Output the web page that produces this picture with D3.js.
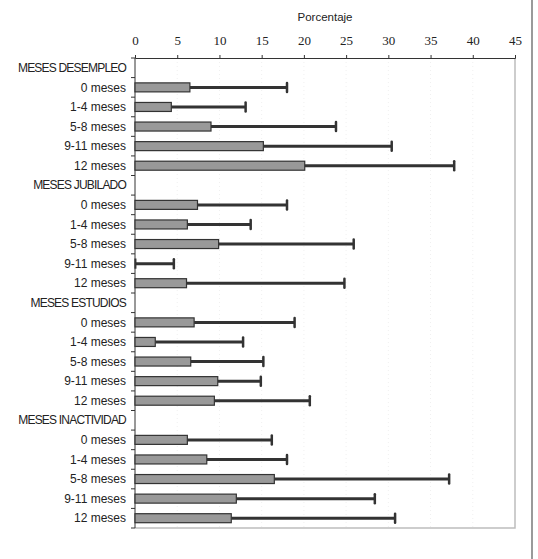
<!DOCTYPE html>
<html>
<head>
<meta charset="utf-8">
<script src="https://cdn.jsdelivr.net/npm/d3@7"></script>
<style>
  body { margin: 0; background: #fff; }
  svg { display: block; }
  .xtick text { font-family: "Times New Roman", "Liberation Serif", Times, serif; font-size: 13px; }
</style>
</head>
<body>
<div id="chart"></div>
<script>
// groups and their sub-categories
var groups = ["MESES DESEMPLEO", "MESES JUBILADO", "MESES ESTUDIOS", "MESES INACTIVIDAD"];
var months = ["0 meses", "1-4 meses", "5-8 meses", "9-11 meses", "12 meses"];

// percentage (bar) per group, in the order of months
var pct_desempleo = [6.5, 4.3, 9.0, 15.2, 20.1];
var pct_jubilado = [7.4, 6.2, 9.9, 0.1, 6.1];
var pct_estudios = [7.0, 2.4, 6.6, 9.8, 9.4];
var pct_inactividad = [6.2, 8.5, 16.5, 12.0, 11.4];

// upper end of the error bar
var up_desempleo = [18.0, 13.1, 23.8, 30.4, 37.8];
var up_jubilado = [18.0, 13.7, 25.9, 4.6, 24.8];
var up_estudios = [18.9, 12.8, 15.2, 14.9, 20.7];
var up_inactividad = [16.2, 18.0, 37.2, 28.4, 30.8];

var xTicks = [0, 5, 10, 15, 20, 25, 30, 35, 40, 45];

var pcts = [pct_desempleo, pct_jubilado, pct_estudios, pct_inactividad];
var ups = [up_desempleo, up_jubilado, up_estudios, up_inactividad];

// build the row list: header row then the five month rows
var rows = [];
groups.forEach(function (g, gi) {
    rows.push({ key: "h" + gi, label: g, header: true });
    months.forEach(function (m, mi) {
        rows.push({ key: gi + "_" + mi, label: m, value: pcts[gi][mi], upper: ups[gi][mi] });
    });
});

var W = 538, H = 559;
var margin = { top: 58, right: 23, bottom: 31, left: 135 };
var width = W - margin.left - margin.right,
    height = H - margin.top - margin.bottom;

var svg = d3.select("#chart").append("svg")
    .attr("width", W)
    .attr("height", H);

// outer frame line on the right
svg.append("line")
    .attr("x1", 532).attr("x2", 532)
    .attr("y1", 0).attr("y2", H)
    .attr("stroke", "#9a9a9a")
    .attr("stroke-width", 2);

var g = svg.append("g")
    .attr("transform", "translate(" + margin.left + "," + margin.top + ")");

var xScale = d3.scaleLinear().domain([0, 45]).range([0, width]);
var yScale = d3.scaleBand()
    .domain(rows.map(function (d) { return d.key; }))
    .range([0, height]);

// faint gridlines
g.selectAll(".grid")
    .data(xTicks.slice(1, -1))
    .enter().append("line")
    .attr("x1", function (d) { return xScale(d); })
    .attr("x2", function (d) { return xScale(d); })
    .attr("y1", 0).attr("y2", height)
    .attr("stroke", "#f0f0f0")
    .attr("stroke-dasharray", "1,3");

// plot border (right + bottom)
g.append("path")
    .attr("d", "M" + width + ",0V" + height + "H0")
    .attr("fill", "none")
    .attr("stroke", "#bdbdbd")
    .attr("stroke-width", 1.5);

// top axis
var xAxis = d3.axisTop(xScale).tickValues(xTicks).tickSize(3).tickPadding(10);
var gx = g.append("g").attr("class", "xtick").call(xAxis);
gx.attr("font-family", null).attr("font-size", null);
gx.select(".domain").attr("stroke", "#333");
gx.selectAll(".tick line").attr("stroke", "#333");
gx.selectAll("text").attr("fill", "#222");

svg.append("text")
    .attr("x", 325).attr("y", 21)
    .attr("text-anchor", "middle")
    .style("font-family", "'Liberation Sans', Arial, sans-serif")
    .style("font-size", "11.5px")
    .attr("fill", "#222")
    .text("Porcentaje");

// left axis: line + ticks at band boundaries
g.append("line")
    .attr("x1", 0).attr("x2", 0)
    .attr("y1", 0).attr("y2", height)
    .attr("stroke", "#333");

var boundaries = rows.map(function (d) { return yScale(d.key); }).concat([height]);
g.selectAll(".ytick")
    .data(boundaries)
    .enter().append("line")
    .attr("x1", -4).attr("x2", 0)
    .attr("y1", function (d) { return d; })
    .attr("y2", function (d) { return d; })
    .attr("stroke", "#333");

g.selectAll(".ylabel")
    .data(rows)
    .enter().append("text")
    .attr("x", -9)
    .attr("y", function (d) { return yScale(d.key) + yScale.bandwidth() / 2; })
    .attr("dy", "0.35em")
    .attr("text-anchor", "end")
    .style("font-family", "'Liberation Sans', Arial, sans-serif")
    .style("font-size", "12px")
    .attr("letter-spacing", function (d) { return d.header ? "-0.8px" : "0px"; })
    .attr("fill", "#222")
    .text(function (d) { return d.label; });

var data = rows.filter(function (d) { return !d.header; });
var barH = 9;

// error bars (drawn first, bars on top)
var err = g.selectAll(".err")
    .data(data)
    .enter().append("g");

err.append("line")
    .attr("x1", function (d) { return xScale(d.value); })
    .attr("x2", function (d) { return xScale(d.upper); })
    .attr("y1", function (d) { return yScale(d.key) + yScale.bandwidth() / 2; })
    .attr("y2", function (d) { return yScale(d.key) + yScale.bandwidth() / 2; })
    .attr("stroke", "#333")
    .attr("stroke-width", 3);

err.append("line")
    .attr("x1", function (d) { return xScale(d.upper); })
    .attr("x2", function (d) { return xScale(d.upper); })
    .attr("y1", function (d) { return yScale(d.key) + yScale.bandwidth() / 2 - 4.5; })
    .attr("y2", function (d) { return yScale(d.key) + yScale.bandwidth() / 2 + 4.5; })
    .attr("stroke", "#333")
    .attr("stroke-width", 2.5)
    .attr("stroke-linecap", "round");

g.selectAll(".bar")
    .data(data)
    .enter().append("rect")
    .attr("x", 0)
    .attr("y", function (d) { return yScale(d.key) + (yScale.bandwidth() - barH) / 2; })
    .attr("width", function (d) { return xScale(d.value); })
    .attr("height", barH)
    .attr("fill", "#999999")
    .attr("stroke", "#333")
    .attr("stroke-width", 1.2);
</script>
</body>
</html>
